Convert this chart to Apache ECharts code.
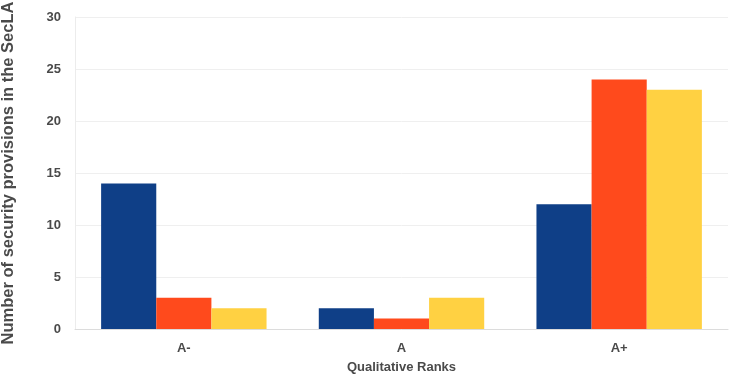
<!DOCTYPE html>
<html>
<head>
<meta charset="utf-8">
<script src="https://cdn.jsdelivr.net/npm/echarts@6/dist/echarts.min.js"></script>
<style>html,body{margin:0;padding:0;background:#fff;}#c{width:739px;height:375px;}</style>
</head>
<body>
<div id="c"></div>
<script>
const categories = ['A-', 'A', 'A+'];
const series1 = [14, 2, 12];
const series2 = [3, 1, 24];
const series3 = [2, 3, 23];
const yTicks = [0, 5, 10, 15, 20, 25, 30];

const chart = echarts.init(document.getElementById('c'), null, {renderer: 'canvas'});
const labelStyle = {color: '#4a4a4a', fontWeight: 'bold', fontSize: 13, fontFamily: 'Liberation Sans, Arial, sans-serif'};
chart.setOption({
  animation: false,
  backgroundColor: '#fff',
  grid: {left: 75, right: 11, top: 17, bottom: 46, containLabel: false, outerBoundsMode: 'none'},
  xAxis: {
    type: 'category',
    data: categories,
    name: 'Qualitative Ranks',
    nameLocation: 'middle',
    nameGap: 32,
    nameTextStyle: Object.assign({}, labelStyle, {fontSize: 13}),
    axisLine: {lineStyle: {color: '#dcdcdc'}},
    axisTick: {show: false},
    axisLabel: Object.assign({}, labelStyle, {fontSize: 13, margin: 13})
  },
  yAxis: {
    type: 'value',
    min: yTicks[0],
    max: yTicks[yTicks.length - 1],
    interval: 5,
    name: 'Number of security provisions in the SecLA',
    nameLocation: 'middle',
    nameGap: 58,
    nameTextStyle: Object.assign({}, labelStyle, {fontSize: 16.5}),
    axisLine: {show: true, lineStyle: {color: '#ececec'}},
    axisTick: {show: false},
    splitLine: {lineStyle: {color: '#efefef'}},
    axisLabel: Object.assign({}, labelStyle, {margin: 14})
  },
  series: [
    {type: 'bar', data: series1, barGap: '0%', barCategoryGap: '24%', itemStyle: {color: '#0f3f87'}},
    {type: 'bar', data: series2, barGap: '0%', barCategoryGap: '24%', itemStyle: {color: '#ff4a1c'}},
    {type: 'bar', data: series3, barGap: '0%', barCategoryGap: '24%', itemStyle: {color: '#ffd142'}}
  ]
});
</script>
</body>
</html>
